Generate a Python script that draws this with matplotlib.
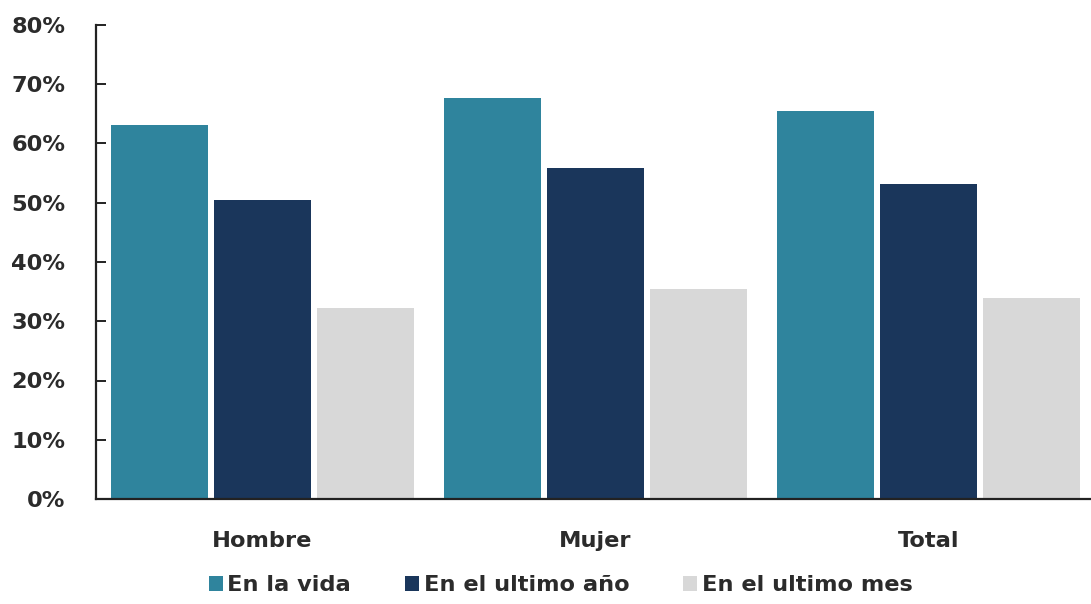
import matplotlib
matplotlib.use("Agg")
import matplotlib.pyplot as plt
import numpy as np
from matplotlib.ticker import FuncFormatter, MultipleLocator

categories = ["Hombre", "Mujer", "Total"]
series_names = ["En la vida", "En el ultimo año", "En el ultimo mes"]
en_la_vida = [63.2, 67.7, 65.5]
ultimo_anio = [50.5, 55.8, 53.1]
ultimo_mes = [32.3, 35.4, 33.9]
series_values = [en_la_vida, ultimo_anio, ultimo_mes]
colors = ["#2F849D", "#1A365B", "#D8D8D8"]

plt.rcParams["font.family"] = ["DejaVu Sans"]
plt.rcParams["font.weight"] = "bold"

fig = plt.figure(figsize=(10.91, 6.04), dpi=100)
ax = fig.add_axes([96 / 1091, 105 / 604, 1 - 96 / 1091, 474 / 604])

x = np.arange(len(categories))
step = 0.309
width = 0.291
handles = []
for i, (name, vals, col) in enumerate(zip(series_names, series_values, colors)):
    b = ax.bar(x + (i - 1) * step, vals, width=width, color=col, label=name)
    handles.append(b)

ax.set_ylim(0, 80)
ax.set_xlim(-0.5, 2.488)
ax.yaxis.set_major_locator(MultipleLocator(10))
ax.yaxis.set_major_formatter(FuncFormatter(lambda v, p: f"{v:.0f}%"))
ax.set_xticks(x)
ax.set_xticklabels(categories)

for s in ["top", "right"]:
    ax.spines[s].set_visible(False)
for s in ["left", "bottom"]:
    ax.spines[s].set_color("#222222")
    ax.spines[s].set_linewidth(1.6)

ax.tick_params(axis="y", direction="in", length=7.5, width=1.4, color="#222222",
               labelsize=16.2, labelcolor="#2b2b2b", pad=22)
ax.tick_params(axis="x", length=0, labelsize=16.2, labelcolor="#2b2b2b", pad=23)
for lbl in ax.get_xticklabels() + ax.get_yticklabels():
    lbl.set_fontweight("bold")

fig.legend(handles=handles, labels=series_names, loc="center",
           bbox_to_anchor=(0.514, 0.031), ncol=3, frameon=False,
           prop={"size": 16.2, "weight": "bold"}, labelcolor="#2b2b2b",
           handlelength=0.62, handleheight=0.62, handletextpad=0.2,
           columnspacing=2.4)

fig.savefig("out.png", dpi=100, facecolor="white")
